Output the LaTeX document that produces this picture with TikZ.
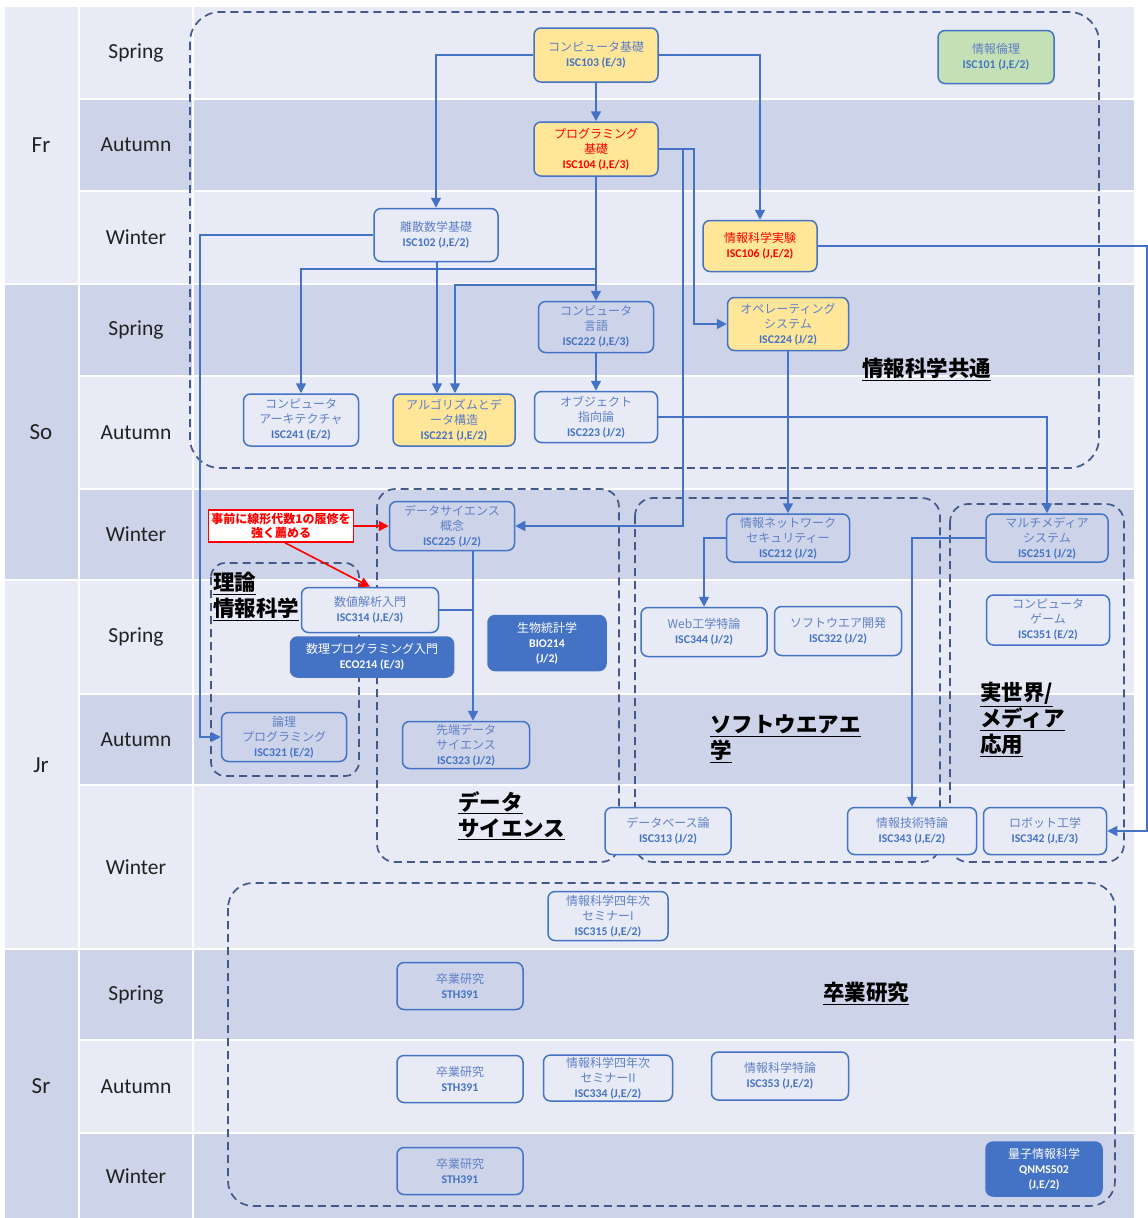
\documentclass[tikz,border=0pt]{standalone}
\usepackage{fontspec}
\setmainfont{Carlito}
\newfontfamily\jpf{Noto Sans CJK JP}
\usetikzlibrary{arrows.meta}
\definecolor{bandL}{HTML}{E8EBF5}
\definecolor{bandD}{HTML}{CDD4E9}
\definecolor{cblue}{HTML}{4472C4}
\definecolor{nmcol}{HTML}{5F80C6}
\definecolor{grpcol}{HTML}{42598A}
\definecolor{yel}{HTML}{FFE699}
\definecolor{grn}{HTML}{C5E0B4}
\definecolor{lblcol}{HTML}{222222}
\newcommand\code[1]{{\rmfamily\bfseries\fontsize{11.8}{14}\selectfont\color{cblue}#1}}
\newcommand\pcode[1]{{\rmfamily\bfseries\fontsize{11.8}{14}\selectfont #1}}
\begin{document}
\begin{tikzpicture}[x=1pt,y=-1pt,
  course/.style={draw=cblue, line width=1.5pt, rounded corners=7pt, align=center, inner sep=0pt, text=nmcol, font=\jpf\fontsize{12}{15}\selectfont},
  onL/.style={fill=bandL}, onD/.style={fill=bandD}, yb/.style={fill=yel}, gb/.style={fill=grn},
  solid/.style={fill=cblue, text=white},
  redtxt/.style={text=red},
  conn/.style={draw=cblue, line width=1.6pt, -{Triangle[length=10pt,width=10pt]}},
  plainconn/.style={draw=cblue, line width=1.6pt},
  rarr/.style={draw=red, line width=1.6pt, -{Triangle[length=10pt,width=10pt]}},
  grp/.style={draw=grpcol, line width=1.7pt, dash pattern=on 8pt off 5pt},
  glabel/.style={font=\jpf\bfseries\fontsize{21.5}{26}\selectfont, text=black, align=left, inner sep=0pt},
  season/.style={font=\fontsize{21.5}{24}\selectfont, text=lblcol},
  year/.style={font=\fontsize{23}{26}\selectfont, text=lblcol}
]
\useasboundingbox (0,0) rectangle (1148,1218);
\fill[white] (0,0) rectangle (1148,1218);
% year column
\fill[bandL] (5,7) rectangle (78,283);
\fill[bandD] (5,285) rectangle (78,579);
\fill[bandL] (5,581) rectangle (78,948);
\fill[bandD] (5,950) rectangle (78,1218);
\node[year] (yFr) at (41,145) {Fr};
\node[year] (ySo) at (41,432) {So};
\node[year] (yJr) at (41,765) {Jr};
\node[year] (ySr) at (41,1086) {Sr};
% rows
\foreach \t/\b/\c/\s in {7/98/bandL/Spring,100/190/bandD/Autumn,192/283/bandL/Winter,
  285/375/bandD/Spring,377/488/bandL/Autumn,490/579/bandD/Winter,
  581/693/bandL/Spring,695/784/bandD/Autumn,786/948/bandL/Winter,
  950/1039/bandD/Spring,1041/1132/bandL/Autumn,1134/1218/bandD/Winter}{
  \fill[\c] (80,\t) rectangle (192,\b);
  \fill[\c] (194,\t) rectangle (1134,\b);
  \node[season] (row\t) at (136,{(\t+\b)/2}) {\s};
}
% groups
\draw[grp, rounded corners=30pt] (190,12) rectangle (1099,468);
\draw[grp, rounded corners=14pt] (211,563) rectangle (359,776);
\draw[grp, rounded corners=18pt] (377,489) rectangle (619,862);
\draw[grp, rounded corners=18pt] (635,498) rectangle (940,862);
\draw[grp, rounded corners=18pt] (950,504) rectangle (1124,862);
\draw[grp, rounded corners=25pt] (228,883) rectangle (1115,1206);
\node[glabel, anchor=west] (g1) at (862,369) {\underline{情報科学共通}};
\node[glabel, anchor=north west] (g2) at (213,572) {\underline{理論}\\\underline{情報科学}};
\node[glabel, anchor=north west] (g3) at (458,791) {\underline{データ}\\\underline{サイエンス}};
\node[glabel, anchor=north west] (g4) at (710,715) {\underline{ソフトウエアエ}\\\underline{学}};
\node[glabel, anchor=north west] (g5) at (980,682) {\underline{実世界/}\\\underline{メディア}\\\underline{応用}};
\node[glabel] (g6) at (866,993) {\underline{卒業研究}};
% courses
\node[course, yb, minimum width=124pt, minimum height=54pt] (n103) at (596,55) {コンピュータ基礎\\\code{ISC103 (E/3)}};
\node[course, yb, redtxt, minimum width=124pt, minimum height=54pt] (n104) at (596,149) {プログラミング\\基礎\\\pcode{ISC104 (J,E/3)}};
\node[course, onL, minimum width=124pt, minimum height=53pt] (n102) at (436,235) {離散数学基礎\\\code{ISC102 (J,E/2)}};
\node[course, gb, minimum width=116pt, minimum height=53pt] (n101) at (996,57) {情報倫理\\\code{ISC101 (J,E/2)}};
\node[course, yb, redtxt, minimum width=114pt, minimum height=51pt] (n106) at (760,246) {情報科学実験\\\pcode{ISC106 (J,E/2)}};
\node[course, onD, minimum width=115pt, minimum height=51pt] (n222) at (596,327) {コンピュータ\\言語\\\code{ISC222 (J,E/3)}};
\node[course, yb, minimum width=121pt, minimum height=53pt] (n224) at (788,324) {オペレーティング\\システム\\\code{ISC224 (J/2)}};
\node[course, onL, minimum width=115pt, minimum height=52pt] (n241) at (301,420) {コンピュータ\\アーキテクチャ\\\code{ISC241 (E/2)}};
\node[course, yb, minimum width=122pt, minimum height=52pt] (n221) at (454,420) {アルゴリズムとデ\\ータ構造\\\code{ISC221 (J,E/2)}};
\node[course, onL, minimum width=123pt, minimum height=51pt] (n223) at (596,417) {オブジェクト\\指向論\\\code{ISC223 (J/2)}};
\node[course, onD, minimum width=125pt, minimum height=49pt] (n225) at (452,526) {データサイエンス\\概念\\\code{ISC225 (J/2)}};
\node[course, onL, minimum width=137pt, minimum height=45pt] (n314) at (370,610) {数値解析入門\\\code{ISC314 (J,E/3)}};
\node[course, solid, minimum width=163pt, minimum height=40pt] (e214) at (372,657) {数理プログラミング入門\\\pcode{ECO214 (E/3)}};
\node[course, solid, minimum width=118pt, minimum height=55pt] (b214) at (547,643) {生物統計学\\\pcode{BIO214}\\\pcode{(J/2)}};
\node[course, onD, minimum width=123pt, minimum height=48pt] (n212) at (788,538) {情報ネットワーク\\セキュリティー\\\code{ISC212 (J/2)}};
\node[course, onD, minimum width=122pt, minimum height=48pt] (n251) at (1047,538) {マルチメディア\\システム\\\code{ISC251 (J/2)}};
\node[course, onL, minimum width=126pt, minimum height=49pt] (n344) at (704,632) {Web工学特論\\\code{ISC344 (J/2)}};
\node[course, onL, minimum width=127pt, minimum height=49pt] (n322) at (838,631) {ソフトウエア開発\\\code{ISC322 (J/2)}};
\node[course, onL, minimum width=123pt, minimum height=50pt] (n351) at (1048,620) {コンピュータ\\ゲーム\\\code{ISC351 (E/2)}};
\node[course, onD, minimum width=125pt, minimum height=49pt] (n321) at (284,737) {論理\\プログラミング\\\code{ISC321 (E/2)}};
\node[course, onD, minimum width=127pt, minimum height=47pt] (n323) at (466,745) {先端データ\\サイエンス\\\code{ISC323 (J/2)}};
\node[course, onL, minimum width=126pt, minimum height=47pt] (n313) at (668,831) {データベース論\\\code{ISC313 (J/2)}};
\node[course, onL, minimum width=129pt, minimum height=47pt] (n343) at (912,831) {情報技術特論\\\code{ISC343 (J,E/2)}};
\node[course, onL, minimum width=123pt, minimum height=47pt] (n342) at (1045,831) {ロボット工学\\\code{ISC342 (J,E/3)}};
\node[course, onL, minimum width=120pt, minimum height=49pt] (n315) at (608,916) {情報科学四年次\\セミナーI\\\code{ISC315 (J,E/2)}};
\node[course, onD, minimum width=126pt, minimum height=47pt] (s1) at (460,986) {卒業研究\\\code{STH391}};
\node[course, onL, minimum width=126pt, minimum height=47pt] (s2) at (460,1079) {卒業研究\\\code{STH391}};
\node[course, onL, minimum width=129pt, minimum height=46pt] (n334) at (608,1078) {情報科学四年次\\セミナーII\\\code{ISC334 (J,E/2)}};
\node[course, onL, minimum width=137pt, minimum height=48pt] (n353) at (780,1076) {情報科学特論\\\code{ISC353 (J,E/2)}};
\node[course, onD, minimum width=126pt, minimum height=47pt] (s3) at (460,1171) {卒業研究\\\code{STH391}};
\node[course, solid, minimum width=116pt, minimum height=54pt] (q502) at (1044,1169) {量子情報科学\\\pcode{QNMS502}\\\pcode{(J,E/2)}};
% note
\node[draw=red, fill=white, line width=1.5pt, text=red, align=center, inner sep=0pt,
  minimum width=145pt, minimum height=32pt, font=\jpf\bfseries\fontsize{12}{13.5}\selectfont] (note) at (281,526) {事前に線形代数1の履修を\\強く薦める};
% connectors
\draw[conn] (n103.west) -| (n102.north);
\draw[conn] (n103.south) -- (n104.north);
\draw[conn] (n103.east) -| (n106.north);
\draw[conn] (n104.south) -- (n222.north);
\draw[conn] (n104.south) -- (n104.south |- 0,269) -| (n241.north);
\draw[conn] (n104.south) -- (n104.south |- 0,285) -| ([xshift=1pt]n221.north);
\draw[conn] (n104.east) -- ++(35,0) |- (n224.west);
\draw[conn] (n104.east) -- ++(24,0) |- (n225.east);
\draw[conn] ([xshift=1pt]n102.south) -- ([xshift=1pt]n102.south |- n221.north);
\draw[conn] (n102.west) -- ++(-173,0) |- (n321.west);
\draw[conn] (n222.south) -- (n223.north);
\draw[conn] (n223.east) -| (n251.north);
\draw[conn] (n224.south) -- (n224.south |- n212.north);
\draw[conn] (n212.west) -| (n344.north);
\draw[conn] (n251.west) -| (n343.north);
\draw[conn] (n225.south -| 473,0) -- (473,0 |- n323.north);
\draw[plainconn] (n314.east) -- (n314.east -| 473,0);
\draw[conn] (n106.east) -- ++(329,0) |- (n342.east);
\draw[rarr] (note.east) -- (n225.west);
\draw[rarr] ([xshift=4pt]note.south) -- (n314.north);
\end{tikzpicture}
\end{document}
